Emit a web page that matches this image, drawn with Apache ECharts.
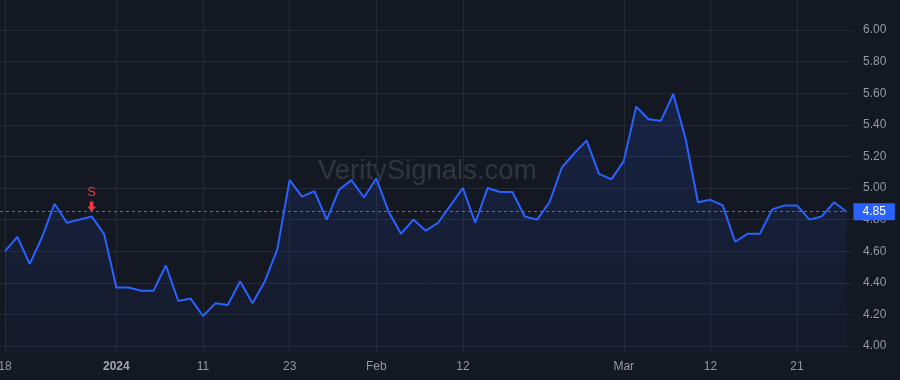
<!DOCTYPE html>
<html>
<head>
<meta charset="utf-8">
<script src="https://cdn.jsdelivr.net/npm/echarts@6/dist/echarts.min.js"></script>
<style>
  html, body { margin: 0; padding: 0; background: #141823; }
  #chart { width: 900px; height: 380px; }
</style>
</head>
<body>
<div id="chart"></div>
<script>
// trading days, Dec 18 2023 .. Mar 27 2024
const dates = [
  '2023-12-18', '2023-12-19', '2023-12-20', '2023-12-21', '2023-12-22', '2023-12-26', '2023-12-27', '2023-12-28', '2023-12-29',
  '2024-01-02', '2024-01-03', '2024-01-04', '2024-01-05', '2024-01-08', '2024-01-09', '2024-01-10', '2024-01-11', '2024-01-12',
  '2024-01-16', '2024-01-17', '2024-01-18', '2024-01-19', '2024-01-22', '2024-01-23', '2024-01-24', '2024-01-25', '2024-01-26',
  '2024-01-29', '2024-01-30', '2024-01-31', '2024-02-01', '2024-02-02', '2024-02-05', '2024-02-06', '2024-02-07', '2024-02-08',
  '2024-02-09', '2024-02-12', '2024-02-13', '2024-02-14', '2024-02-15', '2024-02-16', '2024-02-20', '2024-02-21', '2024-02-22',
  '2024-02-23', '2024-02-26', '2024-02-27', '2024-02-28', '2024-02-29', '2024-03-01', '2024-03-04', '2024-03-05', '2024-03-06',
  '2024-03-07', '2024-03-08', '2024-03-11', '2024-03-12', '2024-03-13', '2024-03-14', '2024-03-15', '2024-03-18', '2024-03-19',
  '2024-03-20', '2024-03-21', '2024-03-22', '2024-03-25', '2024-03-26', '2024-03-27'
];

const closeValues = [
  4.60, 4.69, 4.52, 4.69, 4.90, 4.78, 4.80, 4.82, 4.71,
  4.37, 4.37, 4.35, 4.35, 4.51, 4.285, 4.30, 4.19, 4.27,
  4.26, 4.41, 4.27, 4.41, 4.61, 5.05, 4.945, 4.98, 4.80,
  4.99, 5.05, 4.94, 5.06, 4.85, 4.71, 4.80, 4.73, 4.78,
  4.89, 5.00, 4.78, 5.00, 4.975, 4.975, 4.82, 4.80, 4.91,
  5.13, 5.22, 5.30, 5.09, 5.055, 5.17, 5.515, 5.435, 5.425,
  5.595, 5.31, 4.91, 4.925, 4.89, 4.66, 4.71, 4.71, 4.865,
  4.89, 4.89, 4.80, 4.82, 4.91, 4.85
];

const tickDates = ['2023-12-18', '2024-01-02', '2024-01-11', '2024-01-23', '2024-02-01', '2024-02-12', '2024-03-01', '2024-03-12', '2024-03-21'];
const tickLabels = ['18', '2024', '11', '23', 'Feb', '12', 'Mar', '12', '21'];
const yTicks = [4.0, 4.2, 4.4, 4.6, 4.8, 5.0, 5.2, 5.4, 5.6, 5.8, 6.0];

const signalDate = '2023-12-28';
const signalText = 'S';
const watermark = 'VeritySignals.com';

const tickIdx = tickDates.map(d => dates.indexOf(d));
const signalIdx = dates.indexOf(signalDate);
const lastIdx = closeValues.length - 1;
const lastValue = closeValues[lastIdx];

const chart = echarts.init(document.getElementById('chart'), null, { renderer: 'canvas' });
const font = "'Liberation Sans', Arial, sans-serif";

chart.setOption({
  backgroundColor: '#141823',
  animation: false,
  textStyle: { fontFamily: font },
  graphic: [{
    type: 'text',
    left: 318,
    top: 157,
    silent: true,
    style: {
      text: watermark,
      font: "27.5px 'Liberation Sans', Arial, sans-serif",
      fill: 'rgba(255,255,255,0.13)',
    },
  }],
  grid: { left: 0, right: 47, top: 0, bottom: 28, containLabel: false, outerBoundsMode: 'none' },
  xAxis: {
    type: 'value',
    min: -0.404,
    max: 68.525,
    axisLine: { show: false },
    axisTick: { show: false, customValues: tickIdx },
    axisLabel: {
      customValues: tickIdx,
      color: '#9598a1',
      fontSize: 12,
      margin: 9,
      formatter: (v) => {
        const k = tickIdx.indexOf(Math.round(v));
        const t = k >= 0 ? tickLabels[k] : '';
        return t === '2024' ? '{b|' + t + '}' : t;
      },
      rich: { b: { fontWeight: 'bold', color: '#a3a6ae', fontSize: 12, fontFamily: font } },
    },
    splitLine: { show: true, lineStyle: { color: '#242935', width: 1 } },
  },
  yAxis: {
    type: 'value',
    position: 'right',
    min: 3.962,
    max: 6.19,
    axisLine: { show: false },
    axisTick: { show: false, customValues: yTicks },
    axisLabel: {
      customValues: yTicks,
      color: '#9598a1',
      fontSize: 12,
      margin: 10,
      formatter: (v) => v.toFixed(2),
    },
    splitLine: { show: true, lineStyle: { color: '#242935', width: 1 } },
  },
  series: [{
    type: 'line',
    data: closeValues.map((v, i) => [i, v]),
    symbol: 'none',
    lineStyle: { color: '#2962ff', width: 2 },
    areaStyle: {
      origin: 'start',
      color: new echarts.graphic.LinearGradient(0, 0, 0, 1, [
        { offset: 0, color: 'rgba(41,98,255,0.23)' },
        { offset: 1, color: 'rgba(41,98,255,0.04)' },
      ]),
    },
    markLine: {
      silent: true,
      symbol: ['none', 'none'],
      lineStyle: { color: '#3a6dff', type: [3, 3], width: 1 },
      label: {
        show: true,
        position: 'end',
        distance: 7,
        formatter: lastValue.toFixed(2),
        color: '#ffffff',
        fontSize: 12,
        backgroundColor: '#2962ff',
        padding: [2, 9, 2, 9],
        lineHeight: 13,
      },
      data: [[
        { coord: [-0.404, lastValue] },
        { coord: [lastIdx, lastValue] },
      ]],
    },
    markPoint: {
      silent: true,
      symbol: 'path://M3,0 L7,0 L7,5 L10,5 L5,10 L0,5 L3,5 Z',
      symbolSize: [9, 10],
      symbolOffset: [0, -10],
      itemStyle: { color: '#f23645' },
      label: {
        show: true,
        position: 'top',
        distance: 3,
        formatter: signalText,
        color: '#f23645',
        fontSize: 13,
      },
      data: [{ coord: [signalIdx, closeValues[signalIdx]] }],
    },
  }],
});
</script>
</body>
</html>
